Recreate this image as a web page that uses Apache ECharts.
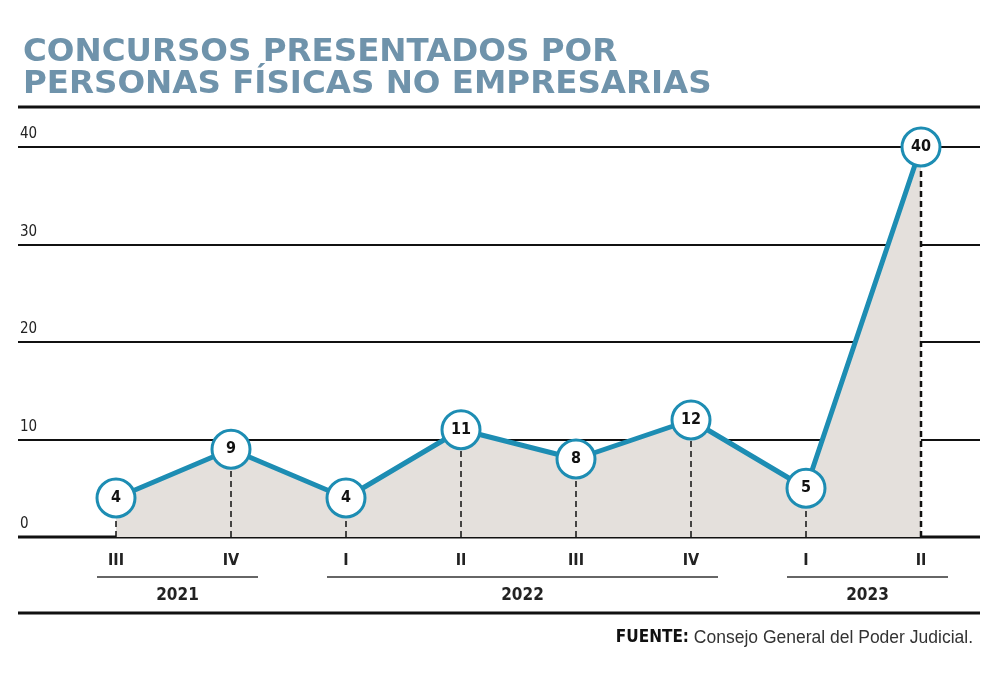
<!DOCTYPE html>
<html><head><meta charset="utf-8">
<script src="https://cdn.jsdelivr.net/npm/echarts@6/dist/echarts.min.js"></script>
<style>html,body{margin:0;padding:0;background:#fff}#c{width:1000px;height:674px}</style>
</head><body><div id="c"></div>
<script>
const quarters = ['III','IV','I','II','III','IV','I','II'];
const years = ['2021','2021','2022','2022','2022','2022','2023','2023'];
const values = [4, 9, 4, 11, 8, 12, 5, 40];
const yTicks = [0, 10, 20, 30, 40];
const titleText = 'CONCURSOS PRESENTADOS POR\nPERSONAS FÍSICAS NO EMPRESARIAS';
const sourceBold = 'FUENTE:';
const sourceText = 'Consejo General del Poder Judicial.';

const categories = quarters.map((q, i) => years[i] + '-' + q);
const COND = "'Liberation Sans Narrow','DejaVu Sans Condensed','DejaVu Sans',sans-serif";
const LINE = '#1d8db3';

const chart = echarts.init(document.getElementById('c'), null, {renderer: 'canvas'});
const option = {
  animation: false,
  backgroundColor: '#fff',
  title: [{
    text: titleText, left: 18, top: 32,
    textStyle: {fontFamily: "'DejaVu Sans',sans-serif", fontWeight: 'bold', fontSize: 32.5, lineHeight: 32, color: '#6f93ab'}
  }, {
    text: '{b|' + sourceBold + '}{r| ' + sourceText + '}', right: 22, top: 624,
    textStyle: {fontFamily: COND, fontSize: 15, fontWeight: 'normal', color: '#333',
      rich: {b: {fontFamily: COND, fontWeight: 'bold', fontSize: 17, color: '#111'},
             r: {fontFamily: "'Liberation Sans',sans-serif", fontWeight: 'normal', fontSize: 17.5, color: '#333'}}}
  }],
  grid: [
    {left: 18, right: 20, top: 147, bottom: 137},
    {left: 116, right: 79, top: 147, bottom: 137}
  ],
  xAxis: [
    {gridIndex: 0, type: 'value', min: 0, max: 1, show: false},
    {gridIndex: 1, type: 'category', data: categories, boundaryGap: false,
     axisLine: {show: false}, axisTick: {show: false}, splitLine: {show: false},
     axisLabel: {margin: 16, fontFamily: COND, fontWeight: 'bold', fontSize: 16, color: '#222',
       formatter: v => v.split('-')[1]}}
  ],
  yAxis: [
    {gridIndex: 0, type: 'value', min: yTicks[0], max: yTicks[yTicks.length-1], interval: 10,
     axisLine: {show: false}, axisTick: {show: false},
     splitLine: {show: true, lineStyle: {color: '#111', width: 2}},
     axisLabel: {inside: true, margin: 2, verticalAlign: 'bottom', padding: [0,0,5,0],
       fontFamily: COND, fontSize: 15, color: '#222'}},
    {gridIndex: 1, type: 'value', min: 0, max: 40, show: false}
  ],
  series: [
    {type: 'line', xAxisIndex: 1, yAxisIndex: 1, z: 2, data: values, symbol: 'none',
     lineStyle: {width: 0, opacity: 0}, silent: true,
     areaStyle: {color: '#e4e0dc', opacity: 1, origin: 'start'}},
    {type: 'custom', xAxisIndex: 1, yAxisIndex: 1, z: 3, data: values.map((v, i) => [i, v]),
     renderItem: (params, api) => {
       const p0 = api.coord([api.value(0), 0]);
       const p1 = api.coord([api.value(0), api.value(1)]);
       const last = params.dataIndex === values.length - 1;
       return {type: 'line', shape: {x1: p0[0], y1: p0[1], x2: p1[0], y2: p1[1]},
         style: {stroke: '#111', lineWidth: last ? 2.5 : 1.5, lineDash: [6, 4]}};
     }},
    {type: 'line', xAxisIndex: 1, yAxisIndex: 1, z: 4, data: values,
     symbol: 'circle', symbolSize: 38,
     lineStyle: {color: LINE, width: 5},
     itemStyle: {color: '#fff', borderColor: LINE, borderWidth: 3},
     label: {show: true, position: 'inside', fontFamily: COND, fontWeight: 'bold', fontSize: 16, color: '#111'}}
  ],
  graphic: []
};
chart.setOption(option);

const gfx = [];
gfx.push({type: 'line', shape: {x1: 18, y1: 107, x2: 980, y2: 107}, style: {stroke: '#111', lineWidth: 3}});
gfx.push({type: 'line', shape: {x1: 18, y1: 537, x2: 980, y2: 537}, style: {stroke: '#111', lineWidth: 3}, z: 2});
gfx.push({type: 'line', shape: {x1: 18, y1: 613, x2: 980, y2: 613}, style: {stroke: '#111', lineWidth: 3}});
const groups = [];
years.forEach((y, i) => {
  const g = groups[groups.length - 1];
  if (g && g.year === y) g.end = i; else groups.push({year: y, start: i, end: i});
});
groups.forEach(g => {
  const xs = chart.convertToPixel({xAxisIndex: 1}, g.start);
  const xe = chart.convertToPixel({xAxisIndex: 1}, g.end);
  const x1 = xs - 19, x2 = xe + 27;
  gfx.push({type: 'line', shape: {x1: x1, y1: 577, x2: x2, y2: 577}, style: {stroke: '#333', lineWidth: 1.5}});
  gfx.push({type: 'text', x: (x1 + x2) / 2, y: 596,
    style: {text: g.year, align: 'center', verticalAlign: 'middle', fontFamily: COND, fontWeight: 'bold', fontSize: 17, fill: '#222'}});
});
chart.setOption({graphic: gfx});
</script></body></html>
